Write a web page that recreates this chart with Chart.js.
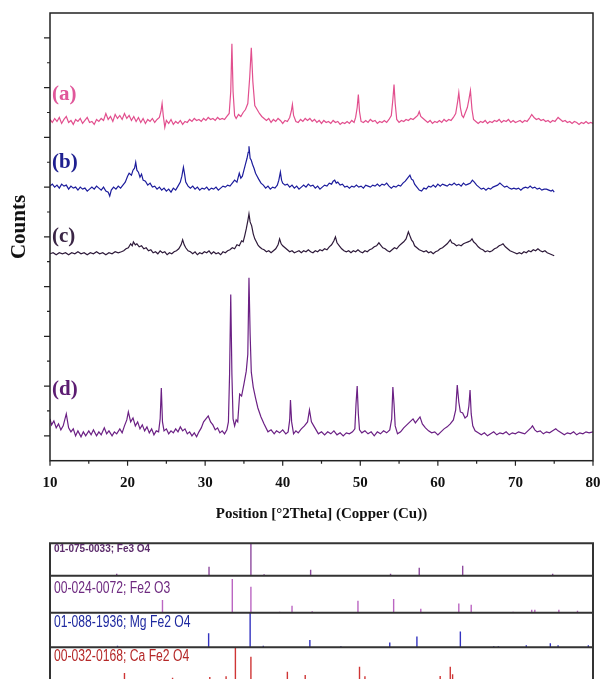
<!DOCTYPE html>
<html>
<head>
<meta charset="utf-8">
<title>XRD patterns</title>
<script src="https://cdn.jsdelivr.net/npm/chart.js@4.4.1/dist/chart.umd.min.js"></script>
<style>
  body { margin: 0; background: #fff; overflow: hidden; }
  #wrap { position: relative; width: 603px; height: 679px; }
  canvas { position: absolute; left: 0; }
</style>
</head>
<body>
<div id="wrap">
  <canvas id="xrd" width="603" height="530" style="top:0"></canvas>
  <canvas id="ref" width="603" height="160" style="top:530px"></canvas>
</div>
<script>
// ---- data ----
// each trace: [2theta, counts above its own baseline]
const traceA = [
  [10,2],[10.3,-1],[10.6,3],[10.9,0],[11.2,4],[11.5,-2],[11.8,2],[12.1,5],[12.4,-1],[12.7,1],[13.0,-3],[13.3,2],[13.6,0],[13.9,3],[14.2,-2],[14.5,1],[14.8,4],[15.1,-1],[15.4,0],[15.7,-3],[16.0,2],[16.3,0],[16.6,3],[16.9,1],[17.2,8],[17.5,2],[17.8,5],[18.1,0],[18.4,7],[18.7,3],[19.0,6],[19.3,2],[19.6,8],[19.9,3],[20.2,6],[20.5,1],[20.8,5],[21.1,0],[21.4,4],[21.7,-1],[22.0,3],[22.3,-2],[22.6,2],[22.9,0],[23.2,3],[23.5,-1],[23.8,2],[24.1,4],[24.3,10],[24.45,18],[24.6,6],[24.8,-6],[25.0,1],[25.3,-2],[25.6,2],[25.9,-3],[26.2,0],[26.5,-2],[26.8,1],[27.1,-3],[27.4,0],[27.7,-1],[28.0,2],[28.3,0],[28.6,3],[28.9,1],[29.2,2],[29.5,0],[29.8,3],[30.1,1],[30.4,4],[30.7,2],[31.0,3],[31.3,1],[31.6,4],[31.9,2],[32.2,3],[32.5,2],[32.8,5],[33.1,8],[33.3,30],[33.45,78],[33.6,30],[33.8,6],[34.0,3],[34.3,7],[34.6,5],[34.9,9],[35.2,12],[35.5,18],[35.75,45],[35.95,74],[36.15,40],[36.4,16],[36.7,12],[37.0,8],[37.3,5],[37.6,3],[37.9,1],[38.2,3],[38.5,-1],[38.8,2],[39.1,0],[39.4,3],[39.7,1],[40.0,-2],[40.3,1],[40.6,0],[40.9,4],[41.1,10],[41.25,17],[41.4,6],[41.7,0],
  [42.0,-1],[42.3,2],[42.6,0],[42.9,3],[43.2,1],[43.5,3],[43.8,0],[44.1,2],[44.4,-1],[44.7,1],[45.0,-2],[45.3,1],[45.6,-1],[45.9,0],[46.2,-2],[46.5,1],[46.8,-1],[47.1,0],[47.4,-3],[47.7,-1],[48.0,-2],[48.3,0],[48.6,-2],[48.9,1],[49.2,-1],[49.4,4],[49.6,14],[49.75,27],[49.9,10],[50.1,0],[50.4,-1],[50.7,1],[51.0,-1],[51.3,2],[51.6,0],[51.9,1],[52.2,-2],[52.5,0],[52.8,-1],[53.1,1],[53.4,-1],[53.7,2],[54.0,6],[54.2,22],[54.35,37],[54.5,18],[54.7,2],[55.0,-1],[55.3,1],[55.6,0],[55.9,2],[56.2,1],[56.5,3],[56.8,2],[57.1,4],[57.4,6],[57.6,10],[57.8,5],[58.1,3],[58.4,1],[58.7,-1],[59.0,1],[59.3,-2],[59.6,0],[59.9,-1],[60.2,1],[60.5,-1],[60.8,2],[61.1,0],[61.4,2],[61.7,1],[62.0,4],[62.3,8],[62.55,20],[62.7,29],[62.9,14],[63.1,6],[63.3,4],[63.5,8],[63.8,14],[64.0,22],[64.2,31],[64.4,12],[64.6,2],[64.9,0],[65.2,-2],[65.5,0],[65.8,-1],[66.1,1],[66.4,-2],[66.7,0],[67.0,-1],[67.3,1],[67.6,0],[67.9,2],[68.2,-1],[68.5,1],[68.8,0],[69.1,2],[69.4,-1],[69.7,1],[70.0,-1],[70.3,0],[70.6,1],[70.9,-1],[71.2,1],[71.5,0],[71.8,3],[72.1,7],[72.4,4],[72.7,2],[73.0,3],[73.3,1],[73.6,2],[73.9,0],[74.2,1],[74.5,-1],[74.8,1],[75.1,0],[75.5,4],[75.8,2],[76.1,0],[76.4,1],[76.7,-1],[77.0,0],[77.3,-2],[77.6,0],[77.9,-1],[78.2,-3],[78.5,-1],[78.8,-2],[79.1,0],[79.4,-2],[79.7,-1],[80.0,-2]
];
const traceB = [
  [10,2],[10.3,4],[10.6,1],[10.9,3],[11.2,0],[11.5,4],[11.8,2],[12.1,3],[12.4,-1],[12.7,2],[13.0,0],[13.3,1],[13.6,-2],[13.9,1],[14.2,-1],[14.5,0],[14.8,-3],[15.1,-1],[15.4,1],[15.7,-1],[16.0,2],[16.3,0],[16.6,-2],[16.9,1],[17.2,-3],[17.5,-4],[17.7,-8],[17.9,-2],[18.2,1],[18.5,-1],[18.8,2],[19.1,0],[19.4,3],[19.7,6],[20.0,12],[20.2,15],[20.5,13],[20.7,18],[20.9,20],[21.05,26],[21.2,18],[21.4,16],[21.6,11],[21.8,14],[22.0,8],[22.3,7],[22.6,3],[22.9,5],[23.2,1],[23.5,2],[23.8,-1],[24.1,1],[24.4,-2],[24.7,0],[25.0,-3],[25.3,-1],[25.6,-4],[25.9,0],[26.2,-2],[26.5,2],[26.8,6],[27.0,12],[27.2,21],[27.35,14],[27.5,6],[27.8,2],[28.1,0],[28.4,2],[28.7,-1],[29.0,1],[29.3,-2],[29.6,0],[29.9,-1],[30.2,1],[30.5,-2],[30.8,0],[31.1,-1],[31.4,1],[31.7,-2],[32.0,0],[32.3,2],[32.6,1],[32.9,3],[33.2,2],[33.5,5],[33.8,8],[34.1,6],[34.4,15],[34.6,10],[34.8,12],[35.0,18],[35.2,24],[35.4,30],[35.55,36],[35.65,42],[35.8,30],[35.95,28],[36.1,24],[36.3,20],[36.5,15],[36.7,12],[36.9,9],[37.2,5],[37.5,3],[37.8,0],[38.1,2],[38.4,-1],[38.7,1],[39.0,0],[39.3,3],[39.5,8],[39.7,16],[39.85,8],[40.0,5],[40.3,3],[40.6,4],[40.9,1],[41.2,3],[41.5,0],[41.8,2],
  [42.1,-1],[42.4,1],[42.7,3],[43.0,1],[43.3,4],[43.6,2],[43.9,3],[44.2,0],[44.5,2],[44.8,-1],[45.1,1],[45.4,3],[45.7,2],[46.0,5],[46.3,4],[46.5,7],[46.7,8],[46.9,5],[47.1,6],[47.4,3],[47.7,4],[48.0,1],[48.3,2],[48.6,0],[48.9,2],[49.2,1],[49.5,3],[49.8,1],[50.1,2],[50.4,0],[50.7,3],[51.0,2],[51.3,1],[51.6,3],[51.9,2],[52.2,4],[52.5,2],[52.8,4],[53.1,3],[53.4,5],[53.7,2],[54.0,0],[54.3,2],[54.6,1],[54.9,3],[55.2,2],[55.5,5],[55.8,7],[56.0,9],[56.2,11],[56.4,13],[56.6,9],[56.8,8],[57.0,4],[57.3,1],[57.6,-2],[57.9,-3],[58.2,0],[58.5,-1],[58.8,2],[59.1,1],[59.4,3],[59.7,1],[60.0,4],[60.3,2],[60.6,4],[60.9,3],[61.2,2],[61.5,4],[61.8,3],[62.1,5],[62.4,3],[62.7,4],[63.0,2],[63.3,5],[63.6,3],[63.9,4],[64.2,5],[64.45,8],[64.7,6],[65.0,3],[65.3,1],[65.6,-1],[65.9,0],[66.2,-2],[66.5,0],[66.8,-1],[67.1,1],[67.4,2],[67.7,3],[68.0,5],[68.3,3],[68.6,1],[68.9,2],[69.2,0],[69.5,-1],[69.8,0],[70.1,-1],[70.4,0],[70.7,-2],[71.0,0],[71.3,1],[71.6,0],[71.9,2],[72.2,0],[72.5,1],[72.8,-1],[73.1,0],[73.4,-2],[73.7,-1],[74.0,-1],[74.3,-2],[74.6,-3],[74.8,-2],[75.0,-4]
];
const traceC = [
  [10,0],[10.4,1],[10.8,-1],[11.2,1],[11.6,0],[12.0,1],[12.4,-1],[12.8,1],[13.2,0],[13.6,2],[14.0,0],[14.4,1],[14.8,-1],[15.2,1],[15.6,0],[16.0,2],[16.4,0],[16.8,1],[17.2,-1],[17.6,1],[18.0,0],[18.4,2],[18.8,1],[19.2,2],[19.5,3],[19.8,5],[20.1,6],[20.4,10],[20.6,8],[20.75,12],[21.0,9],[21.2,10],[21.5,7],[21.8,8],[22.1,5],[22.4,6],[22.7,3],[23.0,4],[23.3,1],[23.6,2],[23.9,0],[24.2,3],[24.5,1],[24.8,2],[25.1,-1],[25.4,1],[25.7,0],[26.0,2],[26.3,3],[26.6,5],[26.9,9],[27.1,14],[27.3,9],[27.5,6],[27.8,3],[28.1,2],[28.4,0],[28.7,2],[29.0,-1],[29.3,1],[29.6,0],[29.9,2],[30.2,1],[30.5,3],[30.8,0],[31.1,2],[31.4,0],[31.7,1],[32.0,-1],[32.3,2],[32.6,1],[32.9,3],[33.2,4],[33.5,6],[33.8,5],[34.1,9],[34.4,8],[34.7,13],[34.9,12],[35.1,18],[35.3,25],[35.5,33],[35.65,40],[35.8,32],[36.0,28],[36.2,20],[36.4,15],[36.6,12],[36.8,9],[37.0,7],[37.3,5],[37.6,4],[37.9,2],[38.2,3],[38.5,1],[38.8,3],[39.1,5],[39.4,9],[39.6,15],[39.8,10],[40.0,8],[40.3,6],[40.6,4],[40.9,2],[41.2,3],[41.5,1],[41.8,2],
  [42.1,3],[42.4,1],[42.7,3],[43.0,2],[43.3,4],[43.6,2],[43.9,1],[44.2,3],[44.5,2],[44.8,4],[45.1,3],[45.4,5],[45.7,4],[46.0,7],[46.3,9],[46.6,13],[46.8,17],[47.0,11],[47.3,8],[47.6,5],[47.9,3],[48.2,2],[48.5,3],[48.8,1],[49.1,3],[49.4,2],[49.7,4],[50.0,2],[50.3,1],[50.6,3],[50.9,2],[51.2,4],[51.5,5],[51.8,7],[52.1,8],[52.4,11],[52.6,9],[52.9,6],[53.2,5],[53.5,3],[53.8,2],[54.1,4],[54.4,6],[54.7,5],[55.0,8],[55.3,10],[55.6,12],[55.9,15],[56.2,22],[56.4,18],[56.6,14],[56.8,12],[57.0,8],[57.3,6],[57.6,4],[57.9,3],[58.2,2],[58.5,3],[58.8,1],[59.1,2],[59.4,0],[59.7,2],[60.0,3],[60.3,5],[60.6,6],[60.9,8],[61.2,10],[61.4,12],[61.6,14],[61.8,11],[62.1,10],[62.4,8],[62.7,9],[63.0,8],[63.3,10],[63.6,11],[63.9,12],[64.2,13],[64.4,15],[64.6,12],[64.9,10],[65.2,7],[65.5,5],[65.8,4],[66.1,2],[66.4,3],[66.7,2],[67.0,3],[67.3,5],[67.6,6],[67.9,8],[68.2,9],[68.4,10],[68.7,7],[69.0,5],[69.3,3],[69.6,2],[69.9,1],[70.2,0],[70.5,1],[70.8,0],[71.1,2],[71.4,1],[71.7,3],[72.0,2],[72.3,4],[72.6,3],[72.9,5],[73.2,3],[73.5,2],[73.8,3],[74.1,1],[74.4,0],[74.7,-1],[75.0,-2]
];
const traceD = [
  [10,15],[10.2,9],[10.5,13],[10.8,6],[11.1,10],[11.4,4],[11.7,8],[12.1,20],[12.4,6],[12.7,2],[13.0,5],[13.3,-2],[13.6,3],[14.0,-3],[14.3,2],[14.6,-2],[15.0,3],[15.3,-1],[15.6,4],[16.0,-2],[16.3,2],[16.6,-1],[17.0,6],[17.3,0],[17.6,3],[18.0,-2],[18.3,2],[18.6,0],[19.0,5],[19.3,1],[19.6,8],[19.9,14],[20.1,22],[20.4,12],[20.7,16],[21.0,8],[21.3,12],[21.6,5],[21.9,9],[22.2,3],[22.5,7],[22.8,1],[23.1,5],[23.4,-1],[23.7,3],[24.0,2],[24.2,15],[24.35,46],[24.5,12],[24.7,3],[25.0,5],[25.3,0],[25.6,3],[25.9,1],[26.2,5],[26.5,2],[26.8,7],[27.1,3],[27.4,5],[27.7,0],[28.0,2],[28.3,-2],[28.6,1],[28.9,-3],[29.2,2],[29.5,6],[29.8,12],[30.1,15],[30.4,18],[30.7,12],[31.0,9],[31.3,4],[31.6,6],[31.9,1],[32.2,3],[32.5,0],[32.8,4],[33.0,12],[33.15,60],[33.3,140],[33.45,60],[33.6,15],[33.8,8],[34.0,14],[34.2,12],[34.45,40],[34.7,38],[35.0,50],[35.3,63],[35.5,80],[35.65,157],[35.8,100],[35.95,62],[36.2,47],[36.5,36],[36.8,26],[37.2,17],[37.6,10],[38.1,2],[38.5,4],[38.9,0],[39.2,3],[39.6,1],[40.0,4],[40.4,0],[40.7,2],[40.9,14],[41.0,34],[41.15,12],[41.4,0],[41.7,3],
  [42.0,1],[42.4,5],[42.8,8],[43.2,12],[43.45,24],[43.7,12],[44.0,8],[44.3,4],[44.6,0],[45.0,2],[45.4,-1],[45.8,2],[46.2,0],[46.6,3],[47.0,-1],[47.4,1],[47.8,-2],[48.2,1],[48.6,0],[49.0,2],[49.3,5],[49.45,30],[49.6,48],[49.75,20],[49.9,4],[50.2,1],[50.6,3],[51.0,0],[51.4,2],[51.8,-2],[52.2,2],[52.6,0],[53.0,3],[53.4,1],[53.8,4],[54.05,15],[54.2,47],[54.35,30],[54.5,8],[54.8,0],[55.2,2],[55.6,6],[56.0,9],[56.4,12],[56.8,15],[57.1,11],[57.4,14],[57.7,17],[58.0,10],[58.4,6],[58.8,3],[59.2,1],[59.6,2],[60.0,-1],[60.4,2],[60.8,5],[61.2,7],[61.6,10],[62.0,14],[62.3,24],[62.5,49],[62.7,32],[62.9,22],[63.2,21],[63.5,16],[63.8,18],[64.0,28],[64.15,44],[64.3,20],[64.5,8],[64.8,3],[65.2,1],[65.6,-1],[66.0,1],[66.4,-2],[66.8,0],[67.2,2],[67.6,-1],[68.0,1],[68.4,0],[68.8,2],[69.2,-1],[69.6,1],[70.0,0],[70.4,2],[70.8,1],[71.2,0],[71.6,3],[72.0,6],[72.2,8],[72.5,4],[72.8,2],[73.2,3],[73.6,0],[74.0,2],[74.4,1],[74.8,3],[75.2,5],[75.5,3],[75.9,1],[76.3,-1],[76.7,1],[77.1,0],[77.5,2],[77.9,-1],[78.3,1],[78.7,0],[79.1,2],[79.5,1],[80.0,2]
];
const sampleNames = ['(a)', '(b)', '(c)', '(d)'];
const sampleOffsets = [341, 274, 208, 27];

const xMajorTicks = [10, 20, 30, 40, 50, 60, 70, 80];
const xMinorTicks = [15, 25, 35, 45, 55, 65, 75];
const yMajorTicks = [25, 75, 125, 175, 225, 275, 325, 375, 425];
const yMinorTicks = [50, 100, 150, 200, 250, 300, 350, 400];

// reference patterns: [2theta, relative stick height]
const refNames = ['01-075-0033; Fe3 O4', '00-024-0072; Fe2 O3', '01-088-1936; Mg Fe2 O4', '00-032-0168; Ca Fe2 O4'];
const refFe3O4 = [[18.6,2],[30.5,9],[35.9,32.4],[37.6,1.5],[43.6,6],[53.9,2],[57.6,8],[63.2,10],[74.8,2]];
const refFe2O3 = [[24.5,12.7],[33.5,33.7],[35.9,26],[39.6,1],[41.2,7],[43.8,1.5],[49.7,12],[54.3,13.7],[57.8,4],[62.7,9.3],[64.3,8],[69.7,1],[72.1,3],[72.5,3],[75.6,3],[78.0,2]];
const refMgFe2O4 = [[18.7,1.5],[30.45,14],[35.8,34.6],[37.5,1.5],[43.5,7.3],[47.5,1],[53.8,4.7],[57.3,10.7],[62.9,15.7],[67.2,1],[67.8,1],[71.4,2],[74.5,4],[75.5,2],[79.4,2]];
const refCaFe2O4 = [[19.6,9.3],[25.8,4.6],[30.6,5.3],[32.7,6],[33.9,35],[35.9,25.6],[40.6,10.6],[42.9,7.3],[45.5,3],[47.4,3],[49.9,15.6],[50.6,6],[52.0,3],[55.1,3],[57.0,2],[60.3,6.3],[61.6,15.6],[61.9,8],[64.9,2],[68.2,3],[70.9,3],[73.5,2]];
const refBaselines = [106.6, 69.6, 35, 0];

// ---- styling ----
const traceColors = ['#e24f8e', '#1c1c9c', '#2e1a3a', '#6b2084'];
const nameColors = ['#e0579a', '#1f2090', '#3a2545', '#5c1d72'];
const nameY = [95, 163, 237, 390];
const refStickColors = ['#8e4a9e', '#bb66c2', '#3333c0', '#cf3535'];
const refNameColors = ['#5c2c6c', '#6e2a80', '#1f2aa0', '#b52828'];
const refNameY = [549, 589, 623, 657];

const serif = '"Liberation Serif", "Times New Roman", serif';

// frame, ticks and the texts of the main panel
const xrdDecor = {
    id: 'xrdDecor',
    afterDraw(chart) {
        const { ctx, chartArea: a, scales: { x, y } } = chart;
        ctx.save();
        ctx.strokeStyle = '#222';
        ctx.lineWidth = 1.5;
        ctx.strokeRect(a.left, a.top, a.right - a.left, a.bottom - a.top);

        ctx.lineWidth = 1.2;
        ctx.beginPath();
        xMajorTicks.forEach(v => { const p = x.getPixelForValue(v); ctx.moveTo(p, a.bottom); ctx.lineTo(p, a.bottom + 5); });
        xMinorTicks.forEach(v => { const p = x.getPixelForValue(v); ctx.moveTo(p, a.bottom); ctx.lineTo(p, a.bottom + 3); });
        yMajorTicks.forEach(v => { const p = y.getPixelForValue(v); ctx.moveTo(a.left, p); ctx.lineTo(a.left - 6, p); });
        yMinorTicks.forEach(v => { const p = y.getPixelForValue(v); ctx.moveTo(a.left, p); ctx.lineTo(a.left - 3, p); });
        ctx.stroke();

        ctx.font = 'bold 21px ' + serif;
        ctx.textAlign = 'left';
        ctx.textBaseline = 'middle';
        sampleNames.forEach((t, i) => {
            ctx.fillStyle = nameColors[i];
            ctx.fillText(t, a.left + 2, nameY[i]);
        });

        ctx.translate(20, 227);
        ctx.rotate(-Math.PI / 2);
        ctx.textAlign = 'center';
        ctx.fillStyle = '#111';
        ctx.font = 'bold 21px ' + serif;
        ctx.fillText('Counts', 0, 0);
        ctx.restore();
    }
};

// row lines, frame and names of the reference panel
const refDecor = {
    id: 'refDecor',
    afterDatasetsDraw(chart) {
        const { ctx, chartArea: a, scales: { y } } = chart;
        ctx.save();
        ctx.strokeStyle = '#333';
        ctx.lineWidth = 2;
        ctx.beginPath();
        ctx.moveTo(a.left, a.bottom + 10);
        ctx.lineTo(a.left, a.top);
        ctx.lineTo(a.right, a.top);
        ctx.lineTo(a.right, a.bottom + 10);
        refBaselines.forEach(b => {
            const p = y.getPixelForValue(b);
            ctx.moveTo(a.left, p);
            ctx.lineTo(a.right, p);
        });
        ctx.stroke();

        ctx.textAlign = 'left';
        ctx.textBaseline = 'middle';
        refNames.forEach((t, i) => {
            ctx.save();
            ctx.translate(a.left + 4, refNameY[i] - 530);
            if (i === 0) {
                ctx.font = 'bold 10px "Liberation Sans", Arial, sans-serif';
            } else {
                ctx.font = '16px "Liberation Sans", Arial, sans-serif';
                ctx.scale(0.76, 1);
            }
            ctx.fillStyle = refNameColors[i];
            ctx.fillText(t, 0, 0);
            ctx.restore();
        });
        ctx.restore();
    }
};

const traces = [traceA, traceB, traceC, traceD];

new Chart(document.getElementById('xrd'), {
    type: 'line',
    data: {
        datasets: traces.map((tr, i) => ({
            label: sampleNames[i],
            data: tr.map(([t, c]) => ({ x: t, y: c + sampleOffsets[i] })),
            borderColor: traceColors[i],
            borderWidth: 1.2,
            pointRadius: 0,
            tension: 0
        }))
    },
    options: {
        responsive: false,
        animation: false,
        devicePixelRatio: 1,
        layout: { padding: { left: 50, right: 10, top: 13, bottom: 0 } },
        plugins: { legend: { display: false }, tooltip: { enabled: false } },
        scales: {
            x: {
                type: 'linear',
                min: 10,
                max: 80,
                border: { display: false },
                grid: { display: false, drawTicks: false },
                afterBuildTicks: s => { s.ticks = xMajorTicks.map(v => ({ value: v })); },
                afterFit: s => { s.height = 69.3; s.paddingLeft = 0; s.paddingRight = 0; },
                ticks: {
                    padding: 13,
                    color: '#111',
                    font: { family: serif, size: 15, weight: 'bold' }
                },
                title: {
                    display: true,
                    text: 'Position [°2Theta] (Copper (Cu))',
                    color: '#111',
                    font: { family: serif, size: 15, weight: 'bold' },
                    padding: { top: 0, bottom: 7 }
                }
            },
            y: { display: false, min: 0, max: 450 }
        }
    },
    plugins: [xrdDecor]
});

const refs = [refFe3O4, refFe2O3, refMgFe2O4, refCaFe2O4];

new Chart(document.getElementById('ref'), {
    type: 'line',
    data: {
        datasets: refs.map((r, i) => ({
            label: refNames[i],
            data: r.flatMap(([t, h]) => [
                { x: t, y: refBaselines[i] },
                { x: t, y: refBaselines[i] + h },
                { x: t, y: null }
            ]),
            borderColor: refStickColors[i],
            borderWidth: 1.4,
            pointRadius: 0,
            spanGaps: false
        }))
    },
    options: {
        responsive: false,
        animation: false,
        devicePixelRatio: 1,
        layout: { padding: { left: 50, right: 10, top: 13.3, bottom: 7.7 } },
        plugins: { legend: { display: false }, tooltip: { enabled: false } },
        scales: {
            x: { type: 'linear', display: false, min: 10, max: 80 },
            y: { display: false, min: 0, max: 139 }
        }
    },
    plugins: [refDecor]
});
</script>
</body>
</html>
